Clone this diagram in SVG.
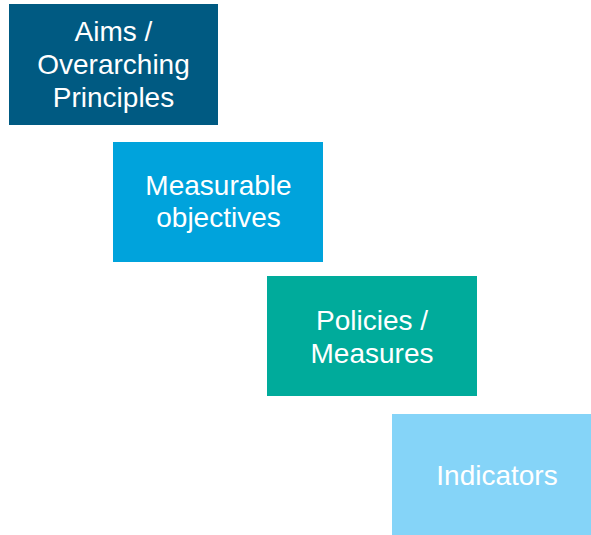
<svg xmlns="http://www.w3.org/2000/svg" width="591" height="535" viewBox="0 0 591 535">
<style>
text{font-family:"Liberation Sans",Arial,sans-serif;font-size:28px;fill:#fff;text-anchor:middle}
</style>
<rect width="591" height="535" fill="#fff"/>
<g id="aims">
<rect x="9" y="4" width="209" height="121" fill="#005A82"/>
<text x="113.5" y="41">Aims /</text>
<text x="113.5" y="74">Overarching</text>
<text x="113.5" y="107">Principles</text>
</g>
<g id="objectives">
<rect x="113" y="142" width="210" height="120" fill="#00A3DC"/>
<text x="218.5" y="195">Measurable</text>
<text x="218.5" y="227">objectives</text>
</g>
<g id="policies">
<rect x="267" y="276" width="210" height="120" fill="#00AB9B"/>
<text x="372" y="330">Policies /</text>
<text x="372" y="363">Measures</text>
</g>
<g id="indicators">
<rect x="392" y="414" width="199" height="121" fill="#85D4F8"/>
<text x="497" y="485">Indicators</text>
</g>
<g id="connectors"/>
</svg>
